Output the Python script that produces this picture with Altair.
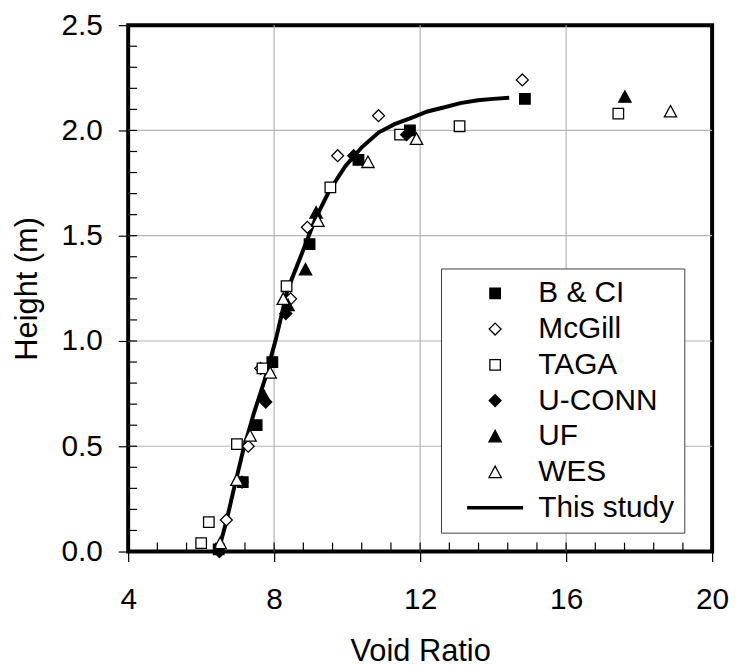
import altair as alt
import pandas as pd

x_label = "Void Ratio"
y_label = "Height (m)"
series_order = ["B & CI", "McGill", "TAGA", "U-CONN", "UF", "WES", "This study"]

# ---- data ----
bci_x = [6.48, 7.14, 7.52, 7.95, 8.97, 10.31, 11.72, 14.87]
bci_y = [0.01, 0.33, 0.60, 0.90, 1.46, 1.86, 2.00, 2.15]

mcgill_x = [6.69, 7.29, 7.63, 8.45, 8.91, 9.74, 10.86, 14.80]
mcgill_y = [0.15, 0.50, 0.87, 1.20, 1.54, 1.88, 2.07, 2.24]

taga_x = [6.00, 6.21, 6.98, 7.68, 8.34, 9.54, 11.45, 13.08, 17.43]
taga_y = [0.04, 0.14, 0.51, 0.87, 1.26, 1.73, 1.98, 2.02, 2.08]

uconn_x = [6.50, 7.12, 7.77, 8.32, 10.18, 11.63]
uconn_y = [0.00, 0.33, 0.71, 1.13, 1.88, 1.98]

uf_x = [7.72, 8.38, 8.86, 9.15, 17.61]
uf_y = [0.74, 1.17, 1.34, 1.61, 2.16]

wes_x = [6.52, 6.98, 7.34, 7.89, 8.25, 9.20, 10.57, 11.90, 18.86]
wes_y = [0.04, 0.34, 0.55, 0.85, 1.20, 1.57, 1.85, 1.96, 2.09]

study_x = [6.47, 6.70, 6.90, 7.15, 7.45, 7.75, 8.05, 8.36, 8.77, 9.13, 9.50,
           9.95, 10.40, 10.86, 11.30, 11.76, 12.20, 12.67, 13.10, 13.58, 14.00, 14.44]
study_y = [0.00, 0.15, 0.30, 0.48, 0.66, 0.82, 1.01, 1.24, 1.42, 1.58, 1.71,
           1.83, 1.92, 1.99, 2.03, 2.06, 2.09, 2.11, 2.13, 2.143, 2.15, 2.155]

x_ticks = [4, 8, 12, 16, 20]
y_ticks = [0.0, 0.5, 1.0, 1.5, 2.0, 2.5]
x_grid = [8, 12, 16]
y_grid = [0.5, 1.0, 1.5, 2.0]
x_minor = [round(4 + 0.8 * i, 1) for i in range(21)]
y_minor = [round(0.1 * i, 1) for i in range(26)]

rows = []
for name, xs_, ys_ in [("B & CI", bci_x, bci_y), ("McGill", mcgill_x, mcgill_y),
                       ("TAGA", taga_x, taga_y), ("U-CONN", uconn_x, uconn_y),
                       ("UF", uf_x, uf_y), ("WES", wes_x, wes_y)]:
    for a, b in zip(xs_, ys_):
        rows.append({"void": a, "height": b, "series": name})
pts = pd.DataFrame(rows)
line_df = pd.DataFrame({"void": study_x, "height": study_y})

# ---- styling ----
FONT = "Liberation Sans"
SYM = 400  # symbol path unit = 10 px
SQ = "M-0.53,-0.53H0.53V0.53H-0.53Z"
DM = "M0,-0.6L0.6,0L0,0.6L-0.6,0Z"
TR = "M0,-0.6L0.62,0.55L-0.62,0.55Z"
LN = "M-2.75,-0.11H2.75V0.11H-2.75Z"
shape_range = [SQ, DM, SQ, DM, TR, TR, LN]
fill_range = ["black", "white", "white", "black", "black", "white", "black"]
stroke_range = ["black"] * 7

xs = alt.Scale(domain=[4, 20], nice=False, zero=False)
ys = alt.Scale(domain=[0, 2.5], nice=False, zero=False)

legend = alt.Legend(
    title=None, orient="none", legendX=315, legendY=245,
    labelFont=FONT, labelFontSize=30, labelColor="black",
    labelOffset=28.5, symbolOffset=29.5,
    labelExpr="datum.label + ' '",
    symbolSize=SYM, symbolStrokeColor="black", symbolStrokeWidth=1.3,
    symbolOpacity=1, padding=10, rowPadding=6,
    strokeColor="#404040", fillColor="white",
)

x_axis = alt.Axis(values=x_ticks, format="d", title=x_label, grid=False, domain=False,
                  tickSize=10, tickColor="black", tickWidth=1.2,
                  labelFont=FONT, labelFontSize=30, labelColor="black", labelPadding=23,
                  labelFlush=False, titleFont=FONT, titleFontSize=31,
                  titleFontWeight="normal", titleColor="black", titlePadding=23)
y_axis = alt.Axis(values=y_ticks, format=".1f", title=y_label, grid=False, domain=False,
                  tickSize=10, tickColor="black", tickWidth=1.2,
                  labelFont=FONT, labelFontSize=30, labelColor="black", labelPadding=16,
                  labelFlush=False, titleFont=FONT, titleFontSize=31,
                  titleFontWeight="normal", titleColor="black", titlePadding=18)

X = lambda f: alt.X(f, scale=xs, axis=x_axis)
Y = lambda f: alt.Y(f, scale=ys, axis=y_axis)

xgrid = alt.Chart(pd.DataFrame({"g": x_grid})).mark_rule(color="#b4b4b4", strokeWidth=1.2).encode(
    x=X("g:Q"))
ygrid = alt.Chart(pd.DataFrame({"g": y_grid})).mark_rule(color="#b4b4b4", strokeWidth=1.2).encode(
    y=Y("g:Q"))

line = alt.Chart(line_df).mark_line(color="black", strokeWidth=4).encode(
    x=X("void:Q"), y=Y("height:Q"))

points = alt.Chart(pts).mark_point(filled=True, size=SYM, stroke="black",
                                   strokeWidth=1.3, opacity=1).encode(
    x=X("void:Q"),
    y=Y("height:Q"),
    shape=alt.Shape("series:N", scale=alt.Scale(domain=series_order, range=shape_range), legend=legend),
    fill=alt.Fill("series:N", scale=alt.Scale(domain=series_order, range=fill_range), legend=legend),
    stroke=alt.Stroke("series:N", scale=alt.Scale(domain=series_order, range=stroke_range), legend=legend),
)

xt = alt.Chart(pd.DataFrame({"t": x_minor})).mark_tick(
    orient="vertical", size=9, thickness=1.2, color="black", opacity=1).encode(
    x=X("t:Q"), y=alt.value(525.5))
yt = alt.Chart(pd.DataFrame({"t": y_minor})).mark_tick(
    orient="horizontal", size=9, thickness=1.2, color="black", opacity=1).encode(
    y=Y("t:Q"), x=alt.value(4.5))

chart = alt.layer(xgrid, ygrid, line, points, xt, yt).properties(
    width=588, height=530,
    padding={"left": 3, "top": 0, "right": 0, "bottom": 0},
    background="white",
).configure(font=FONT).configure_view(stroke="black", strokeWidth=4)

chart.save("out.html", embed_options={"renderer": "svg", "actions": False})
